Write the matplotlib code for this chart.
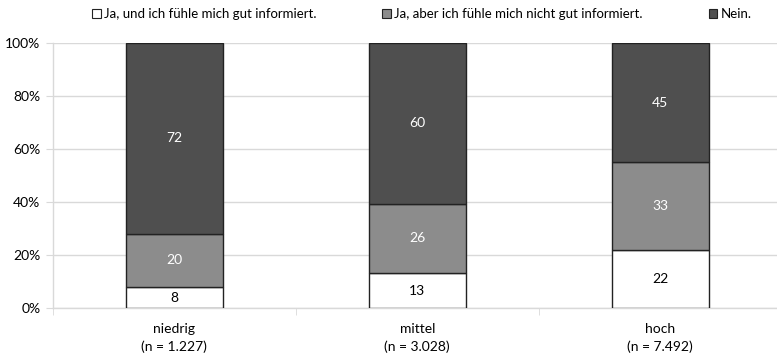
import matplotlib
matplotlib.use("Agg")
import matplotlib.pyplot as plt
import numpy as np
from matplotlib.patches import Patch

plt.rcParams['font.family'] = ['Lato', 'DejaVu Sans']

categories = ["niedrig\n(n = 1.227)", "mittel\n(n = 3.028)", "hoch\n(n = 7.492)"]
series_names = ["Ja, und ich fühle mich gut informiert.",
                "Ja, aber ich fühle mich nicht gut informiert.",
                "Nein."]
informed = [8, 13, 22]
not_informed = [20, 26, 33]
no = [72, 60, 45]
colors = ["#ffffff", "#8c8c8c", "#4f4f4f"]
label_colors = ["black", "white", "white"]

data = np.array([informed, not_informed, no], dtype=float)
totals = data.sum(axis=0)
shares = data / totals

fig = plt.figure(figsize=(7.77, 3.55), dpi=100)
ax = fig.add_axes([0.068, 0.132, 0.938, 0.747])
x = np.arange(len(categories))
bottom = np.zeros(len(categories))
for i in range(3):
    ax.bar(x, shares[i], bottom=bottom, width=0.40, color=colors[i],
           edgecolor="#222222", linewidth=1.0, zorder=3)
    for j in range(len(categories)):
        ax.text(x[j], bottom[j] + shares[i][j] / 2, f"{int(data[i][j])}",
                ha="center", va="center", color=label_colors[i], fontsize=10, zorder=4)
    bottom += shares[i]

ax.set_xlim(-0.5, 2.5)
ax.set_ylim(0, 1)
ax.set_yticks(np.arange(0, 1.01, 0.2))
ax.set_yticklabels([f"{int(v*100)}%" for v in np.arange(0, 1.01, 0.2)], fontsize=10)
ax.set_xticks(x)
ax.set_xticklabels(categories, fontsize=10, linespacing=1.45)
ax.set_xticks([-0.5, 0.5, 1.5, 2.5], minor=True)
ax.tick_params(axis="x", which="major", length=0, pad=11)
ax.tick_params(axis="x", which="minor", length=5, color="#d9d9d9")
ax.tick_params(axis="y", length=5, color="#d9d9d9", pad=4)
ax.grid(axis="y", color="#d9d9d9", linewidth=1, zorder=0)
for s in ["top", "right"]:
    ax.spines[s].set_visible(False)
for s in ["left", "bottom"]:
    ax.spines[s].set_color("#d9d9d9")
    ax.spines[s].set_linewidth(1)

handles = [Patch(facecolor=c, edgecolor="#222222", linewidth=0.8) for c in colors]
fig.legend(handles, series_names, loc="upper center", bbox_to_anchor=(0.543, 1.01),
           ncol=3, frameon=False, fontsize=9.5, handlelength=0.65, handleheight=0.7,
           handletextpad=0.25, columnspacing=5.0)

fig.savefig("out.png", dpi=100)
